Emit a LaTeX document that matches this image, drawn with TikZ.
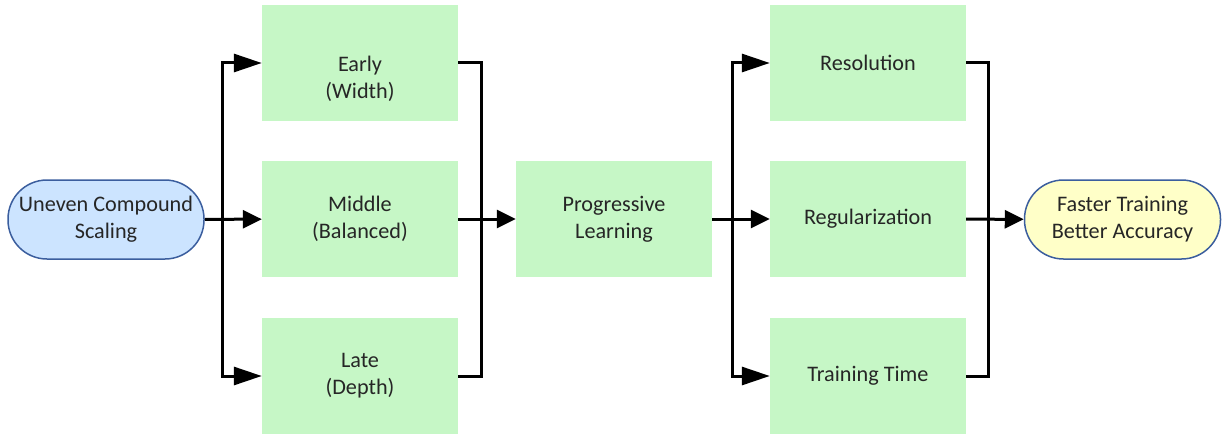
\documentclass[tikz,border=0pt]{standalone}
\usepackage{fontspec}
\setmainfont{Carlito}
\usepackage{tikz}
\usetikzlibrary{arrows.meta}
\usetikzlibrary{calc}

\definecolor{boxgreen}{HTML}{C6F7C6}
\definecolor{termblue}{HTML}{CCE4FF}
\definecolor{termyellow}{HTML}{FFFFC8}
\definecolor{termedge}{HTML}{3B5E9E}
\definecolor{txt}{HTML}{262626}

\tikzset{
    stage/.style={rectangle,fill=boxgreen,minimum width=196,minimum height=116,align=center,text=txt,font=\fontsize{22.2}{27}\selectfont},
    term/.style={rectangle,rounded corners=39,draw=termedge,line width=1.5,minimum width=196,minimum height=79,align=center,text=txt,font=\fontsize{22.2}{27}\selectfont},
    flow/.style={line width=3,-{Triangle[length=19,width=18]}},
    branch/.style={line width=3,-{Triangle[length=28,width=18]}},
    wire/.style={line width=3}
}

\begin{document}
\begin{tikzpicture}[x=1pt,y=-1pt]
    \useasboundingbox (0,0) rectangle (1224,436);

    \node[term,fill=termblue] (uneven) at (106,219.5) {Uneven Compound\\Scaling};

    \node[stage] (early) at (360,63) {\rule{0pt}{47pt}Early\\(Width)};
    \node[stage] (middle) at (360,219) {Middle\\(Balanced)};
    \node[stage] (late) at (360,376) {Late\\(Depth)};

    \node[stage] (prog) at (614,219) {Progressive\\Learning};

    \node[stage] (res) at (868,63) {Resolution};
    \node[stage] (reg) at (868,219) {Regularization};
    \node[stage] (time) at (868,376) {Training Time};

    \node[term,fill=termyellow] (faster) at (1122.5,219.5) {Faster Training\\Better Accuracy};

    \coordinate (split1) at (222,219);
    \coordinate (join1) at (481,219);
    \coordinate (split2) at (732,219);
    \coordinate (join2) at (988,219);

    \draw[flow] (uneven) -- (middle);
    \draw[branch] (split1) |- (early);
    \draw[branch] (split1) |- (late);

    \draw[wire] (early) -| (join1);
    \draw[wire] (late) -| (join1);
    \draw[flow] (middle) -- (prog);

    \draw[flow] (prog) -- (reg);
    \draw[branch] (split2) |- (res);
    \draw[branch] (split2) |- (time);

    \draw[wire] (res) -| (join2);
    \draw[wire] (time) -| (join2);
    \draw[flow] (reg) -- (faster);
\end{tikzpicture}
\end{document}
